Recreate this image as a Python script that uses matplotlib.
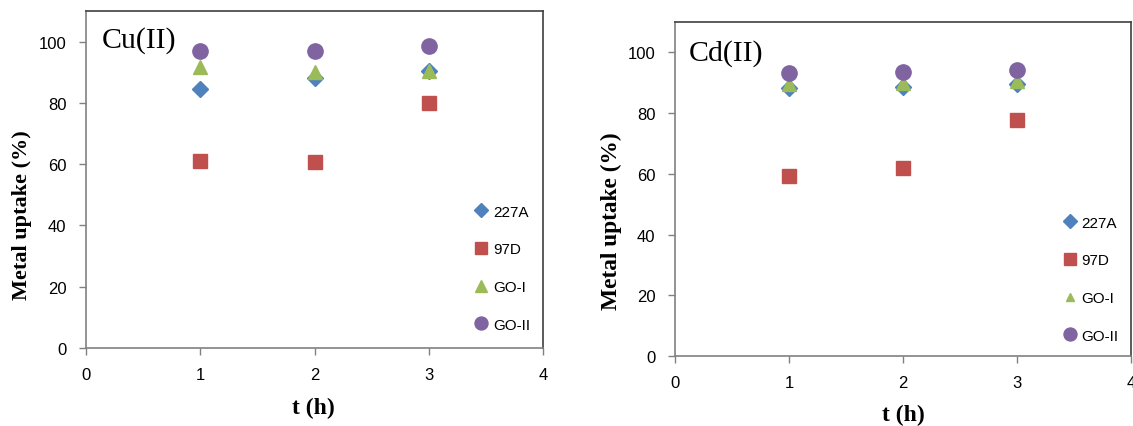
import matplotlib
matplotlib.use("Agg")
import matplotlib.pyplot as plt

# Contact time (h)
t_hours = [1, 2, 3]

# Metal uptake (%) for Cu(II)
cu_227a = [84.5, 88.2, 90.5]
cu_97d = [61.0, 60.8, 80.1]
cu_goi = [91.8, 90.2, 90.5]
cu_goii = [96.8, 97.1, 98.5]

# Metal uptake (%) for Cd(II)
cd_227a = [88.3, 88.6, 89.5]
cd_97d = [59.3, 61.9, 77.8]
cd_goi = [89.6, 89.9, 90.6]
cd_goii = [93.3, 93.4, 94.1]

series_names = ["227A", "97D", "GO-I", "GO-II"]
x_ticks = [0, 1, 2, 3, 4]
y_ticks = [0, 20, 40, 60, 80, 100]

colors = ["#4F81BD", "#C0504D", "#9BBB59", "#8064A2"]
markers = ["D", "s", "^", "o"]
msizes = [8, 10, 10.5, 11]

tick_font = "Liberation Sans"
serif = "Liberation Serif"

fig = plt.figure(figsize=(11.33, 4.27), dpi=100)
ax1 = fig.add_axes([0.0759, 0.1827, 0.4034, 0.7892])
ax2 = fig.add_axes([0.5958, 0.1639, 0.4024, 0.7822])


def draw_panel(ax, data, title, title_xy, legend_anchor, tri_legend_scale,
               ylabel_xy, xlabel_xy, ylabel_size):
    handles = []
    for vals, name, c, m, s in zip(data, series_names, colors, markers, msizes):
        h, = ax.plot(t_hours, vals, linestyle="none", marker=m, markersize=s,
                     color=c, markeredgecolor=c, label=name)
        handles.append(h)
    ax.set_xlim(0, 4)
    ax.set_ylim(0, 110)
    ax.set_xticks(x_ticks)
    ax.set_yticks(y_ticks)
    ax.tick_params(direction="out", length=5, width=1, color="#808080",
                   labelsize=12)
    ax.tick_params(axis="y", pad=9)
    ax.tick_params(axis="x", pad=9)
    for lbl in ax.get_xticklabels() + ax.get_yticklabels():
        lbl.set_fontfamily(tick_font)
    for sp in ax.spines.values():
        sp.set_color("#404040")
        sp.set_linewidth(1.2)
    ax.spines["left"].set_color("#808080")
    ax.spines["bottom"].set_color("#808080")
    ax.set_ylabel("Metal uptake (%)", fontfamily=serif, fontweight="bold",
                  fontsize=ylabel_size, va="center")
    ax.yaxis.set_label_coords(*ylabel_xy)
    ax.set_xlabel("t (h)", fontfamily=serif, fontweight="bold",
                  fontsize=17, va="center")
    ax.xaxis.set_label_coords(*xlabel_xy)
    ax.text(title_xy[0], title_xy[1], title, transform=ax.transAxes,
            fontfamily=serif, fontsize=21.5, ha="left", va="center")
    leg = ax.legend(handles=handles, loc="center left",
                    bbox_to_anchor=legend_anchor, frameon=False,
                    prop={"family": tick_font, "size": 11},
                    labelspacing=1.55, handlelength=0.9, handletextpad=0.3,
                    markerscale=0.85)
    leg.legend_handles[2].set_markersize(msizes[2] * 0.85 * tri_legend_scale)


draw_panel(ax1, [cu_227a, cu_97d, cu_goi, cu_goii], "Cu(II)",
           (0.035, 0.915), (0.82, 0.237), 1.0,
           (-0.14, 0.398), (0.497, -0.175), 16)
draw_panel(ax2, [cd_227a, cd_97d, cd_goi, cd_goii], "Cd(II)",
           (0.031, 0.91), (0.82, 0.23), 0.65,
           (-0.14, 0.406), (0.5, -0.174), 16.8)

fig.savefig("out.png", dpi=100)
